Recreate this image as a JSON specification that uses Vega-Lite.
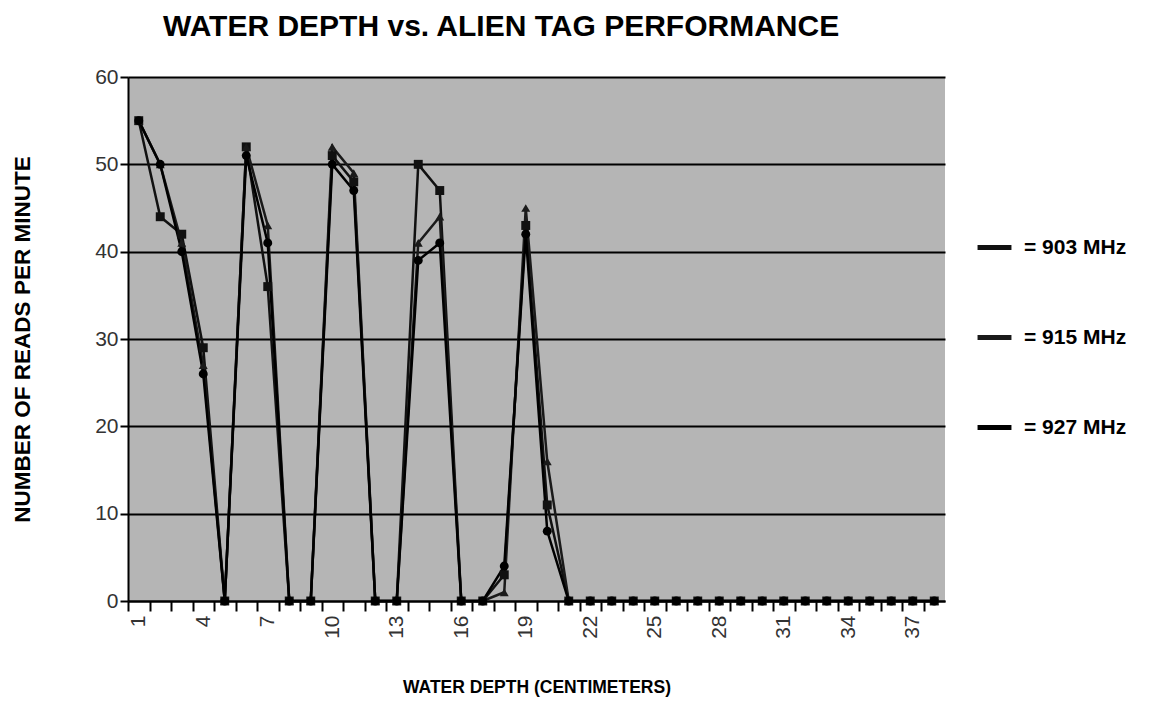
{
  "$schema": "https://vega.github.io/schema/vega-lite/v6.json",
  "width": 817,
  "height": 524,
  "autosize": {"type": "none"},
  "padding": {"left": 128, "top": 77, "right": 212, "bottom": 112},
  "background": "white",
  "title": {
    "text": "WATER DEPTH vs. ALIEN TAG PERFORMANCE",
    "anchor": "start",
    "frame": "group",
    "dx": 35,
    "offset": 24,
    "font": "Liberation Sans",
    "fontSize": 30,
    "fontWeight": "bold",
    "color": "#000000"
  },
  "config": {
    "view": {"fill": "#b5b5b5", "stroke": null}
  },
  "data": {
    "values": [
      {"depth":1,"freq":"903 MHz","reads":55},{"depth":2,"freq":"903 MHz","reads":44},{"depth":3,"freq":"903 MHz","reads":42},{"depth":4,"freq":"903 MHz","reads":29},{"depth":5,"freq":"903 MHz","reads":0},{"depth":6,"freq":"903 MHz","reads":52},{"depth":7,"freq":"903 MHz","reads":36},{"depth":8,"freq":"903 MHz","reads":0},{"depth":9,"freq":"903 MHz","reads":0},{"depth":10,"freq":"903 MHz","reads":51},{"depth":11,"freq":"903 MHz","reads":48},{"depth":12,"freq":"903 MHz","reads":0},{"depth":13,"freq":"903 MHz","reads":0},{"depth":14,"freq":"903 MHz","reads":50},{"depth":15,"freq":"903 MHz","reads":47},{"depth":16,"freq":"903 MHz","reads":0},{"depth":17,"freq":"903 MHz","reads":0},{"depth":18,"freq":"903 MHz","reads":3},{"depth":19,"freq":"903 MHz","reads":43},{"depth":20,"freq":"903 MHz","reads":11},{"depth":21,"freq":"903 MHz","reads":0},{"depth":22,"freq":"903 MHz","reads":0},{"depth":23,"freq":"903 MHz","reads":0},{"depth":24,"freq":"903 MHz","reads":0},{"depth":25,"freq":"903 MHz","reads":0},{"depth":26,"freq":"903 MHz","reads":0},{"depth":27,"freq":"903 MHz","reads":0},{"depth":28,"freq":"903 MHz","reads":0},{"depth":29,"freq":"903 MHz","reads":0},{"depth":30,"freq":"903 MHz","reads":0},{"depth":31,"freq":"903 MHz","reads":0},{"depth":32,"freq":"903 MHz","reads":0},{"depth":33,"freq":"903 MHz","reads":0},{"depth":34,"freq":"903 MHz","reads":0},{"depth":35,"freq":"903 MHz","reads":0},{"depth":36,"freq":"903 MHz","reads":0},{"depth":37,"freq":"903 MHz","reads":0},{"depth":38,"freq":"903 MHz","reads":0},
      {"depth":1,"freq":"915 MHz","reads":55},{"depth":2,"freq":"915 MHz","reads":50},{"depth":3,"freq":"915 MHz","reads":41},{"depth":4,"freq":"915 MHz","reads":27},{"depth":5,"freq":"915 MHz","reads":0},{"depth":6,"freq":"915 MHz","reads":52},{"depth":7,"freq":"915 MHz","reads":43},{"depth":8,"freq":"915 MHz","reads":0},{"depth":9,"freq":"915 MHz","reads":0},{"depth":10,"freq":"915 MHz","reads":52},{"depth":11,"freq":"915 MHz","reads":49},{"depth":12,"freq":"915 MHz","reads":0},{"depth":13,"freq":"915 MHz","reads":0},{"depth":14,"freq":"915 MHz","reads":41},{"depth":15,"freq":"915 MHz","reads":44},{"depth":16,"freq":"915 MHz","reads":0},{"depth":17,"freq":"915 MHz","reads":0},{"depth":18,"freq":"915 MHz","reads":1},{"depth":19,"freq":"915 MHz","reads":45},{"depth":20,"freq":"915 MHz","reads":16},{"depth":21,"freq":"915 MHz","reads":0},{"depth":22,"freq":"915 MHz","reads":0},{"depth":23,"freq":"915 MHz","reads":0},{"depth":24,"freq":"915 MHz","reads":0},{"depth":25,"freq":"915 MHz","reads":0},{"depth":26,"freq":"915 MHz","reads":0},{"depth":27,"freq":"915 MHz","reads":0},{"depth":28,"freq":"915 MHz","reads":0},{"depth":29,"freq":"915 MHz","reads":0},{"depth":30,"freq":"915 MHz","reads":0},{"depth":31,"freq":"915 MHz","reads":0},{"depth":32,"freq":"915 MHz","reads":0},{"depth":33,"freq":"915 MHz","reads":0},{"depth":34,"freq":"915 MHz","reads":0},{"depth":35,"freq":"915 MHz","reads":0},{"depth":36,"freq":"915 MHz","reads":0},{"depth":37,"freq":"915 MHz","reads":0},{"depth":38,"freq":"915 MHz","reads":0},
      {"depth":1,"freq":"927 MHz","reads":55},{"depth":2,"freq":"927 MHz","reads":50},{"depth":3,"freq":"927 MHz","reads":40},{"depth":4,"freq":"927 MHz","reads":26},{"depth":5,"freq":"927 MHz","reads":0},{"depth":6,"freq":"927 MHz","reads":51},{"depth":7,"freq":"927 MHz","reads":41},{"depth":8,"freq":"927 MHz","reads":0},{"depth":9,"freq":"927 MHz","reads":0},{"depth":10,"freq":"927 MHz","reads":50},{"depth":11,"freq":"927 MHz","reads":47},{"depth":12,"freq":"927 MHz","reads":0},{"depth":13,"freq":"927 MHz","reads":0},{"depth":14,"freq":"927 MHz","reads":39},{"depth":15,"freq":"927 MHz","reads":41},{"depth":16,"freq":"927 MHz","reads":0},{"depth":17,"freq":"927 MHz","reads":0},{"depth":18,"freq":"927 MHz","reads":4},{"depth":19,"freq":"927 MHz","reads":42},{"depth":20,"freq":"927 MHz","reads":8},{"depth":21,"freq":"927 MHz","reads":0},{"depth":22,"freq":"927 MHz","reads":0},{"depth":23,"freq":"927 MHz","reads":0},{"depth":24,"freq":"927 MHz","reads":0},{"depth":25,"freq":"927 MHz","reads":0},{"depth":26,"freq":"927 MHz","reads":0},{"depth":27,"freq":"927 MHz","reads":0},{"depth":28,"freq":"927 MHz","reads":0},{"depth":29,"freq":"927 MHz","reads":0},{"depth":30,"freq":"927 MHz","reads":0},{"depth":31,"freq":"927 MHz","reads":0},{"depth":32,"freq":"927 MHz","reads":0},{"depth":33,"freq":"927 MHz","reads":0},{"depth":34,"freq":"927 MHz","reads":0},{"depth":35,"freq":"927 MHz","reads":0},{"depth":36,"freq":"927 MHz","reads":0},{"depth":37,"freq":"927 MHz","reads":0},{"depth":38,"freq":"927 MHz","reads":0}
    ]
  },
  "encoding": {
    "x": {
      "field": "depth",
      "type": "ordinal",
      "scale": {"type": "point", "padding": 0.5},
      "axis": {
        "title": "WATER DEPTH (CENTIMETERS)",
        "titleFont": "Liberation Sans",
        "titleFontSize": 17.5,
        "titleFontWeight": "bold",
        "titleColor": "#000000",
        "titlePadding": 40,
        "grid": false,
        "domainColor": "#000000",
        "domainWidth": 2,
        "tickColor": "#000000",
        "tickWidth": 2,
        "tickSize": 10,
        "tickOffset": -10.75,
        "labelOffset": 10.75,
        "labelAngle": -90,
        "labelOverlap": false,
        "labelPadding": 4,
        "labelFont": "Liberation Sans",
        "labelFontSize": 21,
        "labelColor": "#333333",
        "labelExpr": "(datum.value - 1) % 3 == 0 ? datum.label : ''"
      }
    },
    "y": {
      "field": "reads",
      "type": "quantitative",
      "scale": {"domain": [0, 60]},
      "axis": {
        "values": [0, 10, 20, 30, 40, 50, 60],
        "title": "NUMBER OF READS PER MINUTE",
        "titleFont": "Liberation Sans",
        "titleFontSize": 22.5,
        "titleFontWeight": "bold",
        "titleColor": "#000000",
        "titlePadding": 60,
        "grid": true,
        "gridColor": "#000000",
        "gridWidth": 2,
        "gridOpacity": 1,
        "domainColor": "#000000",
        "domainWidth": 2,
        "tickColor": "#000000",
        "tickWidth": 2,
        "tickSize": 8,
        "labelPadding": 2,
        "labelFont": "Liberation Sans",
        "labelFontSize": 21,
        "labelColor": "#333333"
      }
    },
    "color": {
      "field": "freq",
      "type": "nominal",
      "scale": {"range": ["#111111", "#1a1a1a", "#000000"]},
      "legend": {
        "orient": "none",
        "legendX": 847,
        "legendY": 151,
        "title": null,
        "padding": 0,
        "symbolType": "stroke",
        "symbolStrokeWidth": 5,
        "symbolSize": 1150,
        "symbolOpacity": 1,
        "rowPadding": 60,
        "labelOffset": 10,
        "labelFont": "Liberation Sans",
        "labelFontSize": 21,
        "labelFontWeight": "bold",
        "labelColor": "#000000",
        "labelExpr": "'= ' + datum.label"
      }
    }
  },
  "layer": [
    {
      "mark": {"type": "line", "strokeWidth": 2.5}
    },
    {
      "mark": {"type": "point", "filled": true, "size": 80, "opacity": 1},
      "encoding": {
        "shape": {
          "field": "freq",
          "type": "nominal",
          "scale": {"range": ["square", "triangle-up", "circle"]},
          "legend": null
        }
      }
    }
  ]
}
